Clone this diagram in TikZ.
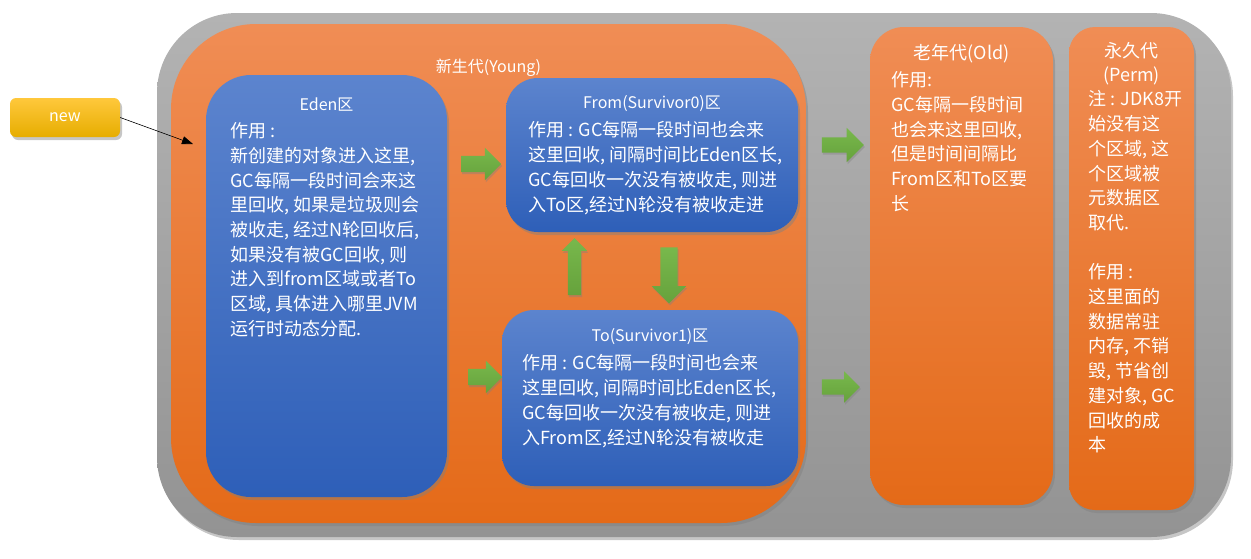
\documentclass[tikz,border=0pt]{standalone}
\usepackage{fontspec}
\setmainfont{Noto Sans CJK SC}
\usepackage{tikz}
\usetikzlibrary{shapes.arrows, shadows, arrows.meta}
\definecolor{graytop}{HTML}{B3B3B3}
\definecolor{graybot}{HTML}{939393}
\definecolor{orgtop}{HTML}{F08D55}
\definecolor{orgbot}{HTML}{E46A18}
\definecolor{bluetop}{HTML}{5C84CE}
\definecolor{bluebot}{HTML}{2E5FB8}
\definecolor{yeltop}{HTML}{FFC83C}
\definecolor{yelbot}{HTML}{E6AD00}
\definecolor{greentop}{HTML}{78B84C}
\definecolor{greenbot}{HTML}{66A23C}
\tikzstyle{area} = [rectangle, draw=none, drop shadow={opacity=0.45, shadow xshift=2pt, shadow yshift=-3pt}]
\tikzstyle{orangebox} = [area, top color=orgtop, bottom color=orgbot]
\tikzstyle{bluebox} = [area, top color=bluetop, bottom color=bluebot]
\tikzstyle{title} = [white, inner sep=0pt, align=center, font=\fontsize{16}{24}\selectfont]
\tikzstyle{body} = [white, inner sep=0pt, align=left, anchor=north west, font=\fontsize{18}{24.7}\selectfont]
\tikzstyle{garrow} = [single arrow, draw=none, top color=greentop, bottom color=greenbot, inner sep=0pt,
    text width=16pt, text height=8pt, text depth=8pt, single arrow head extend=8pt, minimum height=40pt,
    drop shadow={opacity=0.4, shadow xshift=1pt, shadow yshift=-2pt}]
\tikzstyle{arrow} = [-{Triangle[length=11pt,width=8pt]}, semithick]

\begin{document}
\begin{tikzpicture}[x=1pt,y=-1pt]
    \useasboundingbox (0,0) rectangle (1251,558);
    % heap
    \node[area, top color=graytop, bottom color=graybot, rounded corners=80pt,
        minimum width=1074pt, minimum height=524pt] (heap) at (694,275) {};
    \node[orangebox, rounded corners=85pt, minimum width=635pt, minimum height=499pt] (young) at (488.5,273.5) {};
    \node[title] (youngttl) at (488.5,68) {新生代(Young)};
    % young generation
    \node[bluebox, rounded corners=45pt, minimum width=241pt, minimum height=422pt] (eden) at (326.5,286) {};
    \node[bluebox, rounded corners=32pt, minimum width=292pt, minimum height=154pt] (from) at (652,155) {};
    \node[bluebox, rounded corners=32pt, minimum width=296pt, minimum height=176pt] (to) at (650,398) {};
    \node[title] (edenttl) at (326.5,105) {Eden区};
    \node[title] (fromttl) at (652,104) {From(Survivor0)区};
    \node[title] (tottl) at (650,337) {To(Survivor1)区};
    \node[body] (edentxt) at (230,122.5) {作用 :\\新创建的对象进入这里,\\GC每隔一段时间会来这\\里回收, 如果是垃圾则会\\被收走, 经过N轮回收后,\\如果没有被GC回收, 则\\进入到from区域或者To\\区域, 具体进入哪里JVM\\运行时动态分配.};
    \node[body] (fromtxt) at (528,121.5) {作用 : GC每隔一段时间也会来\\这里回收, 间隔时间比Eden区长,\\GC每回收一次没有被收走, 则进\\入To区,经过N轮没有被收走进};
    \node[body] (totxt) at (522,354.5) {作用 : GC每隔一段时间也会来\\这里回收, 间隔时间比Eden区长,\\GC每回收一次没有被收走, 则进\\入From区,经过N轮没有被收走};
    % old and perm
    \node[orangebox, rounded corners=34pt, minimum width=183pt, minimum height=478pt] (old) at (961.5,266) {};
    \node[orangebox, rounded corners=26pt, minimum width=125pt, minimum height=483pt] (perm) at (1131.5,268.5) {};
    \node[title, font=\fontsize{18}{24.7}\selectfont] (oldttl) at (961.5,54) {老年代(Old)};
    \node[title, font=\fontsize{18}{24}\selectfont] (permttl) at (1131.5,64) {永久代\\(Perm)};
    \node[body] (oldtxt) at (891,71.5) {作用:\\GC每隔一段时间\\也会来这里回收,\\但是时间间隔比\\From区和To区要\\长};
    \node[body] (permtxt) at (1088,90.5) {注 : JDK8开\\始没有这\\个区域, 这\\个区域被\\元数据区\\取代.\\[24.7pt]作用 :\\这里面的\\数据常驻\\内存, 不销\\毁, 节省创\\建对象, GC\\回收的成\\本};
    % flow
    \node[garrow] (e2f) at (477,164) {};
    \node[garrow, minimum height=34pt] (e2t) at (481,377) {};
    \node[garrow, shape border rotate=90, text width=13pt, text height=6.5pt, text depth=6.5pt,
        single arrow head extend=6pt, minimum height=57pt] (t2f) at (574.5,270) {};
    \node[garrow, shape border rotate=270, text width=17pt, text height=8.5pt, text depth=8.5pt,
        single arrow head extend=8.5pt, minimum height=56pt] (f2t) at (669,271) {};
    \node[garrow, text width=15pt, text height=7.5pt, text depth=7.5pt, single arrow head extend=9.5pt,
        minimum height=42pt] (y2o) at (839,145) {};
    \node[garrow, text width=15pt, text height=7.5pt, text depth=7.5pt, single arrow head extend=8pt,
        minimum height=38pt] (y2o2) at (837,387) {};
    % new object
    \node[area, top color=yeltop, bottom color=yelbot, rounded corners=6pt, minimum width=110pt, minimum height=39pt,
        text=white, font=\fontsize{16}{20}\selectfont] (new) at (65,117.5) {new};
    \coordinate (newtip) at (193,144);
    \draw[arrow] (new.east) -- (newtip);
\end{tikzpicture}
\end{document}
